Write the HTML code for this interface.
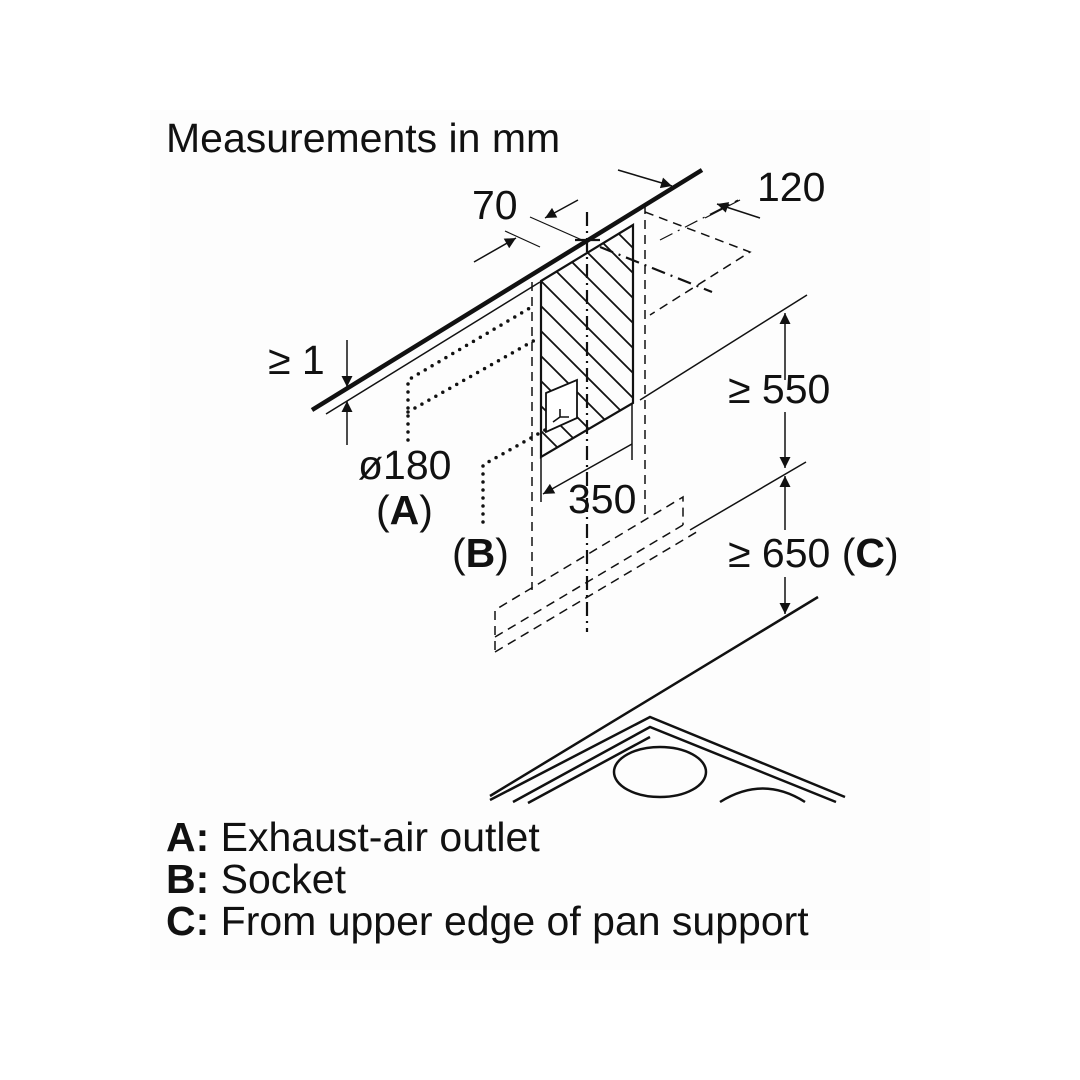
<!DOCTYPE html>
<html><head><meta charset="utf-8"><style>
html,body{margin:0;padding:0;background:#fff;}
svg{display:block;}
text{font-family:"Liberation Sans",sans-serif;fill:#111;}
</style></head><body>
<svg width="1080" height="1080" viewBox="0 0 1080 1080">
<rect x="150" y="110" width="780" height="860" fill="#fdfdfd"/>
<defs>
<marker id="ar" viewBox="0 0 10 10" refX="10" refY="5" markerWidth="18" markerHeight="11" markerUnits="userSpaceOnUse" orient="auto"><path d="M0,0L10,5L0,10z" fill="#111"/></marker>
<clipPath id="hc"><path d="M541,281L633,225L633,403L541,457z"/></clipPath>
</defs>
<text x="166" y="152" font-size="41">Measurements in mm</text>
<g stroke="#111" fill="none">
<line x1="312" y1="410" x2="702" y2="170" stroke-width="4.5"/>
<line x1="326" y1="414" x2="540" y2="282" stroke-width="1.5"/>
<line x1="347" y1="340" x2="347" y2="387" stroke-width="1.5" marker-end="url(#ar)"/>
<line x1="347" y1="445" x2="347" y2="401" stroke-width="1.5" marker-end="url(#ar)"/>
<g clip-path="url(#hc)" stroke-width="1.8">
<line x1="400" y1="190" x2="720" y2="510"/><line x1="400" y1="215" x2="720" y2="535"/>
<line x1="400" y1="240" x2="720" y2="560"/><line x1="400" y1="265" x2="720" y2="585"/>
<line x1="400" y1="290" x2="720" y2="610"/><line x1="400" y1="315" x2="720" y2="635"/>
<line x1="400" y1="340" x2="720" y2="660"/><line x1="400" y1="165" x2="720" y2="485"/>
<line x1="400" y1="140" x2="720" y2="460"/><line x1="400" y1="115" x2="720" y2="435"/>
<line x1="400" y1="90" x2="720" y2="410"/><line x1="400" y1="65" x2="720" y2="385"/>
<line x1="400" y1="40" x2="720" y2="360"/><line x1="400" y1="15" x2="720" y2="335"/>
</g>
<path d="M546,393L577,380L577,418L546,432z" fill="#fff" stroke-width="1.8"/>
<path d="M553,422l7,-5v-8M560,417l9,0" stroke-width="1.6"/>
<path d="M541,281L633,225L633,403L541,457z" stroke-width="2.2"/>
<line x1="532" y1="282" x2="532" y2="590" stroke-width="1.5" stroke-dasharray="9,6"/>
<line x1="645" y1="205" x2="645" y2="520" stroke-width="1.5" stroke-dasharray="9,6"/>
<line x1="587" y1="212" x2="587" y2="632" stroke-width="2.2" stroke-dasharray="14,5,2,5"/>
<line x1="575" y1="240" x2="600" y2="240" stroke-width="2.2"/>
<path d="M645,212L750,252L650,315" stroke-width="1.5" stroke-dasharray="9,6"/>
<line x1="600" y1="247" x2="712" y2="292" stroke-width="2.2" stroke-dasharray="14,6,2,6"/>
<line x1="660" y1="240" x2="738" y2="200" stroke-width="1.2" stroke-dasharray="14,6,2,6"/>
<line x1="530" y1="217" x2="582" y2="240" stroke-width="1.2"/>
<line x1="505" y1="231" x2="540" y2="247" stroke-width="1.2"/>
<line x1="578" y1="200" x2="545" y2="218" stroke-width="1.5" marker-end="url(#ar)"/>
<line x1="474" y1="262" x2="516" y2="238" stroke-width="1.5" marker-end="url(#ar)"/>
<line x1="618" y1="170" x2="672" y2="186" stroke-width="1.5" marker-end="url(#ar)"/>
<line x1="760" y1="218" x2="717" y2="204" stroke-width="1.5" marker-end="url(#ar)"/>
<line x1="705" y1="218" x2="740" y2="200" stroke-width="1.2"/>
<line x1="640" y1="400" x2="807" y2="295" stroke-width="1.5"/>
<line x1="785" y1="380" x2="785" y2="313" stroke-width="1.5" marker-end="url(#ar)"/>
<line x1="785" y1="412" x2="785" y2="468" stroke-width="1.5" marker-end="url(#ar)"/>
<line x1="690" y1="530" x2="806" y2="462" stroke-width="1.5"/>
<line x1="785" y1="530" x2="785" y2="476" stroke-width="1.5" marker-end="url(#ar)"/>
<line x1="785" y1="577" x2="785" y2="614" stroke-width="1.5" marker-end="url(#ar)"/>
<line x1="490" y1="796" x2="818" y2="597" stroke-width="2.5"/>
<path d="M490,800L650,717L845,797" stroke-width="2.5"/>
<path d="M513,802L650,727L836,802" stroke-width="2.5"/>
<path d="M528,803L650,737" stroke-width="2.5"/>
<ellipse cx="660" cy="772" rx="46" ry="25" stroke-width="2.5"/>
<path d="M720,802Q763,775 805,802" stroke-width="2.5"/>
<g stroke-width="3.5" stroke-dasharray="0,8" stroke-linecap="round">
<path d="M408,440L408,380L535,305"/>
<path d="M408,412L535,340"/>
<path d="M483,522L483,465L545,430"/>
</g>
<line x1="541" y1="457" x2="541" y2="502" stroke-width="1.5"/>
<line x1="632" y1="403" x2="632" y2="460" stroke-width="1.5"/>
<line x1="632" y1="444" x2="543" y2="494" stroke-width="1.5" marker-end="url(#ar)"/>
<g stroke-width="1.5" stroke-dasharray="9,6">
<path d="M495,650L495,610L683,497L683,525"/>
<line x1="495" y1="637" x2="683" y2="525"/>
<line x1="495" y1="652" x2="700" y2="530"/>
</g>
</g>
<text x="268" y="374" font-size="41">≥ 1</text>
<text x="472" y="219" font-size="41">70</text>
<text x="757" y="201" font-size="41">120</text>
<text x="728" y="403" font-size="41">≥ 550</text>
<text x="568" y="513" font-size="41">350</text>
<text x="358" y="479" font-size="41">ø180</text>
<text x="376" y="524" font-size="41">(<tspan font-weight="bold">A</tspan>)</text>
<text x="452" y="567" font-size="41">(<tspan font-weight="bold">B</tspan>)</text>
<text x="728" y="567" font-size="41">≥ 650 (<tspan font-weight="bold">C</tspan>)</text>
<text x="166" y="851" font-size="41"><tspan font-weight="bold">A:</tspan> Exhaust-air outlet</text>
<text x="166" y="893" font-size="41"><tspan font-weight="bold">B:</tspan> Socket</text>
<text x="166" y="935" font-size="41"><tspan font-weight="bold">C:</tspan> From upper edge of pan support</text>
</svg>
</body></html>
